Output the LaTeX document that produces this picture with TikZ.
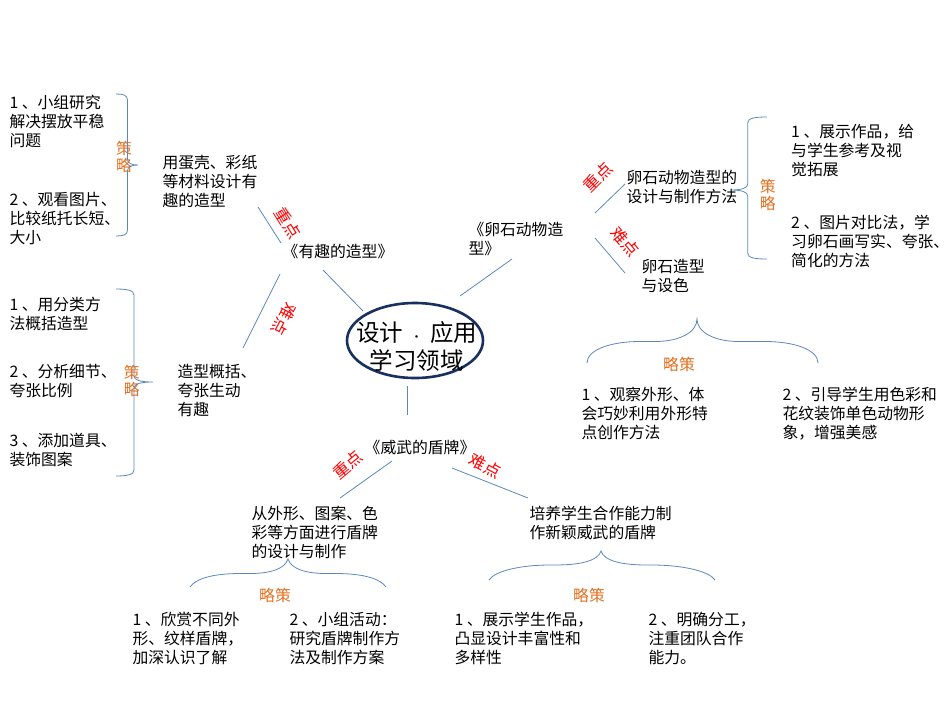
\documentclass[tikz,border=0pt]{standalone}
\usepackage{fontspec}
\setmainfont{Noto Sans CJK SC}
\usetikzlibrary{shapes.geometric}
\definecolor{edgeblue}{HTML}{5B88BC}
\definecolor{hubnavy}{HTML}{17305F}
\definecolor{tagorange}{HTML}{E36F1E}
\begin{document}
\begin{tikzpicture}[x=1pt, y=-1pt]
\tikzstyle{every node} = [inner sep=0, align=left, font=\fontsize{15.8}{19}\selectfont]
\tikzstyle{item} = [anchor=west, xshift=-0.7]
\tikzstyle{edge} = [draw=edgeblue, line width=0.8]
\tikzstyle{brace} = [draw=edgeblue, line width=0.8]
\tikzstyle{keytag} = [text=red, font=\fontsize{16.5}{19}\selectfont]
\tikzstyle{waytag} = [text=tagorange, align=center, font=\fontsize{15.8}{17}\selectfont]
\useasboundingbox (0,0) rectangle (950,713);
\node[draw=hubnavy, line width=2.6, ellipse, minimum width=136, minimum height=75] (hub) at (415,340.5) {};
\node[align=center, font=\fontsize{23.5}{27.5}\selectfont] (hub_text) at (416.5,346.5) {设计\hspace{7.5pt}{\fontsize{12}{12}\selectfont ·}\hspace{7.5pt}应用\\学习领域};
\node[] (fun) at (338,251) {《有趣的造型》};
\node[item] (pebble) at (469,238.5) {《卵石动物造\\型》};
\node[] (shield) at (420,447) {《威武的盾牌》};
\node[item] (shell) at (163,181) {用蛋壳、彩纸\\等材料设计有\\趣的造型};
\node[item] (shape) at (178,390.5) {造型概括、\\夸张生动\\有趣};
\node[item] (method) at (627,187) {卵石动物造型的\\设计与制作方法};
\node[item] (colour) at (642,276) {卵石造型\\与设色};
\node[item] (outline) at (252,532.5) {从外形、图案、色\\彩等方面进行盾牌\\的设计与制作};
\node[item] (team) at (530,523) {培养学生合作能力制\\作新颖威武的盾牌};
\node[item] (shell_1) at (10,121.7) {1 、小组研究\\解决摆放平稳\\问题};
\node[item] (shell_2) at (10,219) {2 、观看图片、\\比较纸托长短、\\大小};
\node[item] (shape_1) at (10,314) {1 、用分类方\\法概括造型};
\node[item] (shape_2) at (10,381) {2 、分析细节、\\夸张比例};
\node[item] (shape_3) at (10,449.5) {3 、添加道具、\\装饰图案};
\node[item] (method_1) at (791.7,151) {1 、展示作品，给\\与学生参考及视\\觉拓展};
\node[item] (method_2) at (791.7,241) {2 、图片对比法，学\\习卵石画写实、夸张、\\简化的方法};
\node[item] (colour_1) at (582,413.5) {1 、观察外形、体\\会巧妙利用外形特\\点创作方法};
\node[item] (colour_2) at (783,413.5) {2 、引导学生用色彩和\\花纹装饰单色动物形\\象，增强美感};
\node[item] (outline_1) at (133,638) {1 、欣赏不同外\\形、纹样盾牌，\\加深认识了解};
\node[item] (outline_2) at (290,638) {2 、小组活动：\\研究盾牌制作方\\法及制作方案};
\node[item] (team_1) at (455,638) {1 、展示学生作品，\\凸显设计丰富性和\\多样性};
\node[item] (team_2) at (649,638) {2 、明确分工，\\注重团队合作\\能力。};
\node[waytag] (way_shell) at (124,157) {策\\略};
\node[waytag] (way_shape) at (131.7,381) {策\\略};
\node[waytag] (way_method) at (767.7,195) {策\\略};
\node[waytag] (way_colour) at (679,364) {略策};
\node[waytag] (way_outline) at (275,595.7) {略策};
\node[waytag] (way_team) at (589,595.7) {略策};
\node[keytag, rotate=-58] (key_shell) at (288,223) {重点};
\node[keytag, rotate=-118] (key_shape) at (284,319) {难点};
\node[keytag, rotate=45] (key_method) at (598,177) {重点};
\node[keytag, rotate=-50] (key_colour) at (625,241.7) {难点};
\node[keytag, rotate=40] (key_outline) at (347.7,465) {重点};
\node[keytag, rotate=-28] (key_team) at (485,466) {难点};
\draw[edge] ([shift={(-52,-29.5)}]hub.center) -- ([shift={(-15,19)}]fun.center);
\draw[edge] ([shift={(-57,-8)}]fun.center) -- ([shift={(95.7,26)}]shell.west);
\draw[edge] ([shift={(-58,23)}]fun.center) -- ([shift={(65.7,-42.5)}]shape.west);
\draw[edge] ([shift={(45,-44.5)}]hub.center) -- ([shift={(43.7,20.5)}]pebble.west);
\draw[edge] ([shift={(126.7,-25.5)}]pebble.west) -- ([shift={(-1.3,-3)}]method.west);
\draw[edge] ([shift={(126.7,-0.5)}]pebble.west) -- ([shift={(-16.3,-3)}]colour.west);
\draw[edge] ([shift={(-7.3,45.5)}]hub.center) -- ([shift={(-12.3,-32)}]shield.center);
\draw[edge] ([shift={(-28,14)}]shield.center) -- ([shift={(88.7,-34.5)}]outline.west);
\draw[edge] ([shift={(32,21)}]shield.center) -- ([shift={(-1.3,-25)}]team.west);
\draw[brace] (116,94) .. controls (123,94) and (127.5,95) .. (127.5,100) -- (127.5,159) .. controls (127.5,163) and (131,165) .. (138,165) .. controls (131,165) and (127.5,167) .. (127.5,171) -- (127.5,230) .. controls (127.5,235) and (123,236) .. (116,236);
\draw[brace] (116,289) .. controls (126,289) and (134,290) .. (134,295) -- (134,376) .. controls (134,380) and (140,382) .. (153,382) .. controls (140,382) and (134,384) .. (134,388) -- (134,470) .. controls (134,475) and (126,476) .. (116,476);
\draw[brace] (767,117) .. controls (755,117) and (747.7,118) .. (747.7,123) -- (747.7,184) .. controls (747.7,188) and (742,190) .. (730,190) .. controls (742,190) and (747.7,192) .. (747.7,196) -- (747.7,253) .. controls (747.7,258) and (755,259) .. (767,259);
\draw[brace] (587,363) .. controls (587,350) and (610,341.5) .. (640,341.5) -- (655,341.5) .. controls (680,341.5) and (697,332) .. (697,319) .. controls (697,332) and (714,341.5) .. (739,341.5) -- (765,341.5) .. controls (795,341.5) and (818,350) .. (818,363);
\draw[brace] (190,587) .. controls (196,578) and (215,573.5) .. (240,573.5) -- (250,573.5) .. controls (270,573.5) and (285,569) .. (288,559) .. controls (291,569) and (306,573.5) .. (326,573.5) -- (336,573.5) .. controls (361,573.5) and (380,578) .. (386,587);
\draw[brace] (489,580) .. controls (495,571) and (520,565) .. (550,565) -- (555,565) .. controls (580,565) and (598,561) .. (601,551) .. controls (604,561) and (622,565) .. (647,565) -- (652,565) .. controls (682,565) and (709,571) .. (715,580);
\end{tikzpicture}
\end{document}
